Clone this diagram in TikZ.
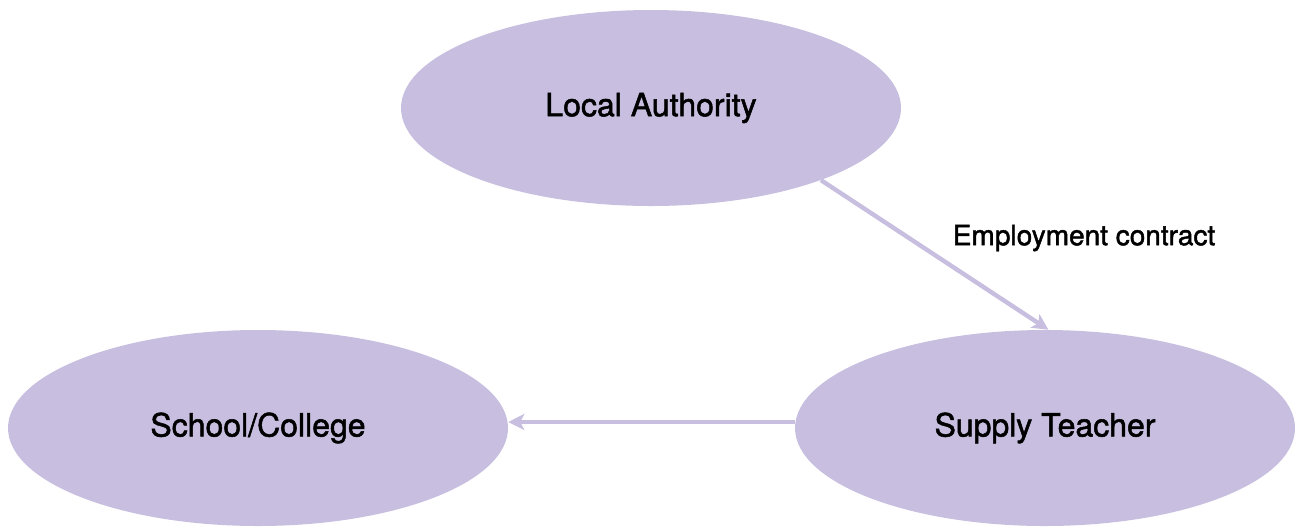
\documentclass[tikz,border=0pt]{standalone}
\usepackage{fontspec}
\setmainfont{TeX Gyre Heros}[FakeBold=1.6]
\usetikzlibrary{shapes.geometric,arrows.meta}
\definecolor{lav}{RGB}{200,190,223}
\begin{document}
\begin{tikzpicture}[x=0.75pt,y=-0.75pt,
  ell/.style={ellipse,fill=lav,draw=none,minimum width=375pt,minimum height=147pt,inner sep=0pt,font=\fontsize{24}{28}\selectfont},
  conn/.style={draw=lav,line width=3.3pt,-{Stealth[length=12pt,width=12pt,inset=3pt]}},
  lbl/.style={font=\fontsize{21}{25}\selectfont}]
\useasboundingbox (0,0) rectangle (1295,526);
\node[ell] (la) at (651,108) {Local Authority};
\node[ell] (sc) at (258,428) {School/College};
\node[ell] (st) at (1045,428) {Supply Teacher};
\draw[conn] (la.-23) -- (st.88);
\draw[conn] ([yshift=4.5pt]st.west) -- ([yshift=4.5pt]sc.east);
\node[lbl] (ec) at (1084,238) {Employment contract};
\end{tikzpicture}
\end{document}
